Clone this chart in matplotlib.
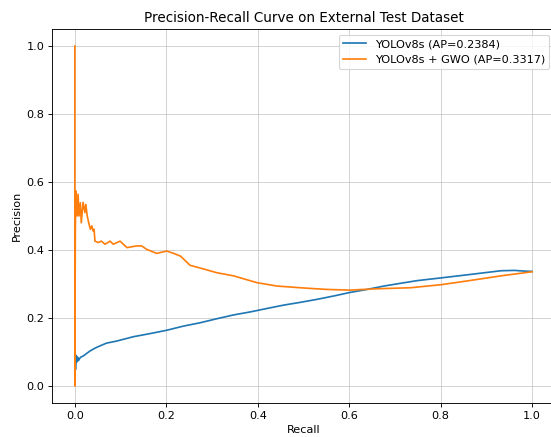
import matplotlib
matplotlib.use("Agg")
import matplotlib.pyplot as plt

# YOLOv8s (blue) PR curve
recall_base = [0.002, 0.003, 0.004, 0.006, 0.008, 0.010, 0.013, 0.018, 0.025, 0.033, 0.045,
               0.055, 0.069, 0.091, 0.128, 0.164, 0.201, 0.237, 0.274, 0.311, 0.347,
               0.384, 0.420, 0.457, 0.493, 0.530, 0.567, 0.601, 0.639, 0.676, 0.712,
               0.749, 0.801, 0.858, 0.895, 0.932, 0.961, 0.983, 1.0]
precision_base = [0.05, 0.09, 0.07, 0.085, 0.075, 0.08, 0.085, 0.088, 0.095, 0.103, 0.112,
                  0.118, 0.126, 0.132, 0.145, 0.154, 0.164, 0.176, 0.186, 0.198, 0.209,
                  0.218, 0.228, 0.238, 0.246, 0.255, 0.265, 0.275, 0.284, 0.294, 0.302,
                  0.310, 0.318, 0.327, 0.333, 0.339, 0.340, 0.338, 0.337]

# YOLOv8s + GWO (orange) PR curve
recall_gwo = [0.0, 0.0, 0.001, 0.002, 0.005, 0.007, 0.009, 0.012, 0.014, 0.018,
              0.022, 0.024, 0.027, 0.031, 0.034, 0.037, 0.040, 0.042, 0.044, 0.051,
              0.058, 0.066, 0.077, 0.084, 0.099, 0.106, 0.114, 0.135, 0.146, 0.157,
              0.179, 0.201, 0.216, 0.231, 0.252, 0.274, 0.311, 0.347, 0.398, 0.442,
              0.493, 0.515, 0.552, 0.601, 0.661, 0.734, 0.801, 0.858, 0.932, 1.0]
precision_gwo = [1.0, 0.0, 0.45, 0.574, 0.50, 0.564, 0.50, 0.539, 0.48, 0.54,
                 0.51, 0.534, 0.50, 0.476, 0.461, 0.471, 0.456, 0.461, 0.426, 0.422,
                 0.426, 0.417, 0.426, 0.417, 0.426, 0.417, 0.407, 0.412, 0.412, 0.402,
                 0.390, 0.397, 0.390, 0.382, 0.355, 0.347, 0.333, 0.324, 0.304, 0.294,
                 0.289, 0.287, 0.284, 0.282, 0.286, 0.289, 0.298, 0.309, 0.324, 0.336]

labels = ["YOLOv8s (AP=0.2384)", "YOLOv8s + GWO (AP=0.3317)"]

fig = plt.figure(figsize=(551/81, 437/81), dpi=81)
ax = fig.add_axes([52/551, 34/437, 503/551, 374/437])
ax.plot(recall_base, precision_base, color="#1f77b4", lw=1.5, label=labels[0])
ax.plot(recall_gwo, precision_gwo, color="#ff7f0e", lw=1.5, label=labels[1])
ax.set_xlim(-0.05, 1.05)
ax.set_ylim(-0.05, 1.05)
ax.set_xticks([0.0, 0.2, 0.4, 0.6, 0.8, 1.0])
ax.set_yticks([0.0, 0.2, 0.4, 0.6, 0.8, 1.0])
ax.set_xlabel("Recall")
ax.set_ylabel("Precision")
ax.set_title("Precision-Recall Curve on External Test Dataset")
ax.grid(True, color="#b0b0b0", alpha=0.6)
ax.legend(loc="upper right")
fig.savefig("out.png", dpi=81)
